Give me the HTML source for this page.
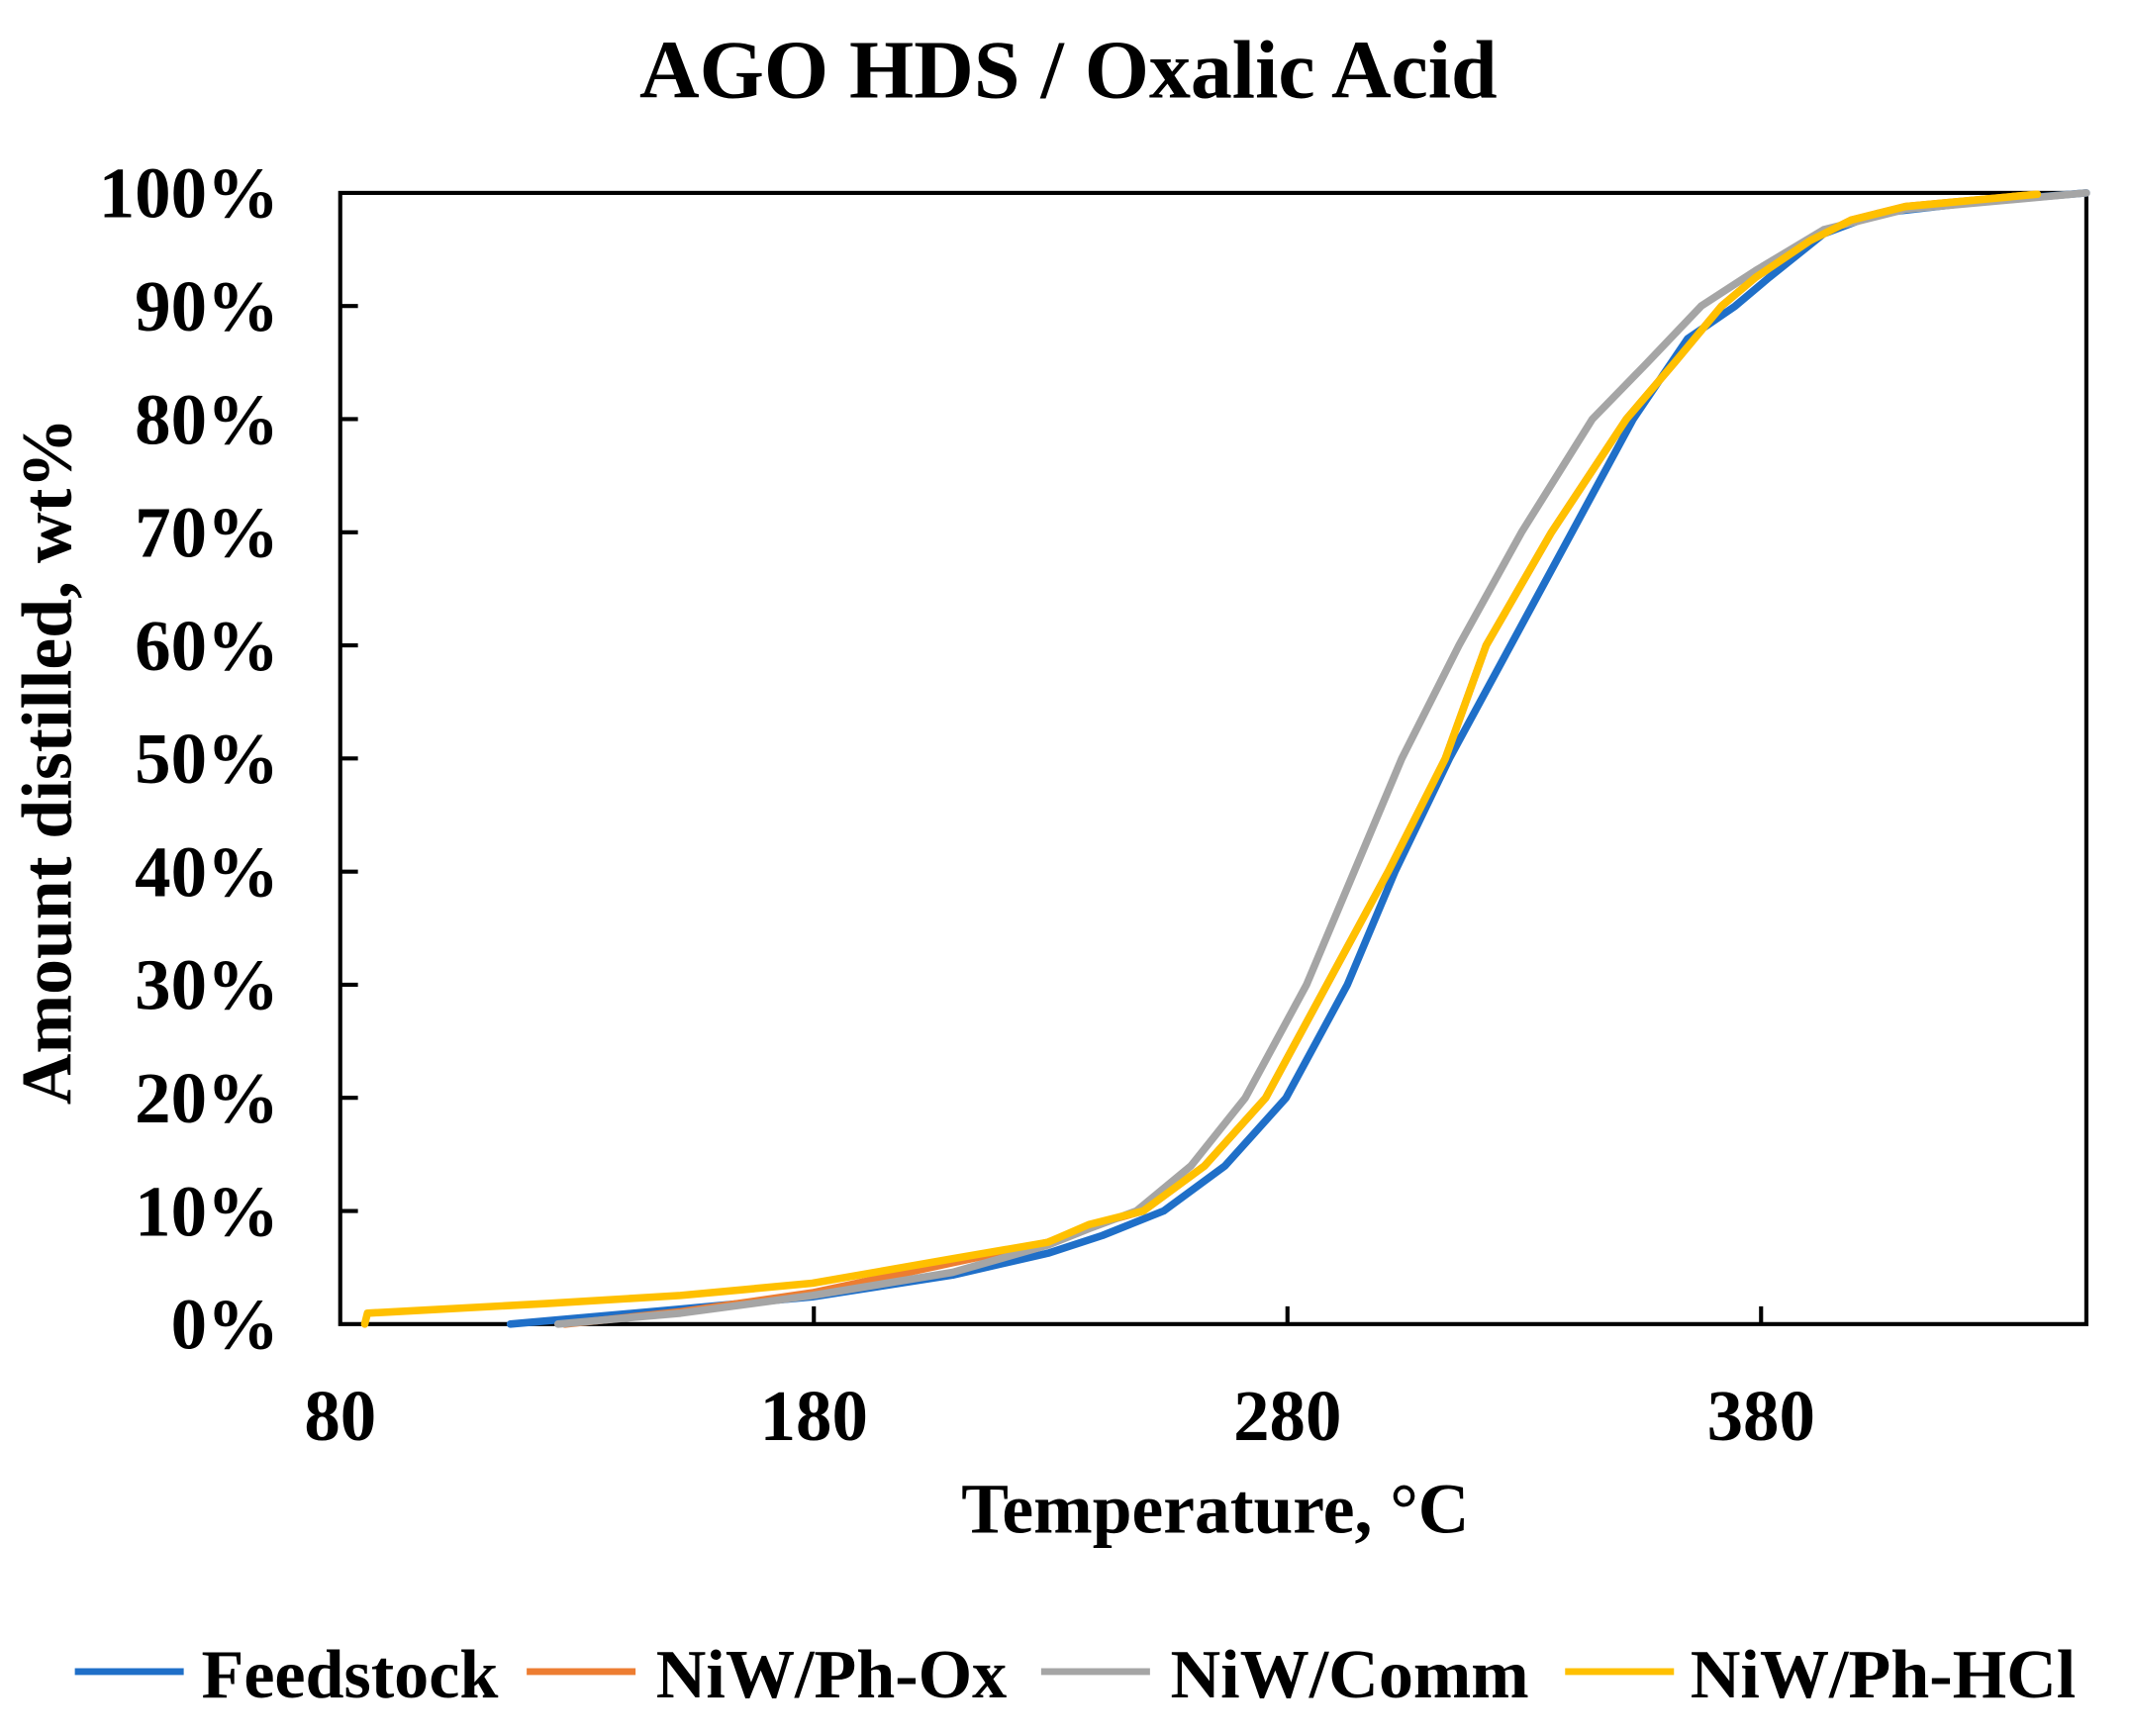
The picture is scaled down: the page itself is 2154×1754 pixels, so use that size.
<!DOCTYPE html>
<html><head><meta charset="utf-8"><style>html,body{margin:0;padding:0;background:#fff}svg{display:block}</style></head>
<body>
<svg width="2154" height="1754" xmlns="http://www.w3.org/2000/svg" font-family="Liberation Serif, serif" font-weight="bold">
<g transform="matrix(1.375,0,0,1.377,0,-2)">
<text x="785" y="73" font-size="61" text-anchor="middle">AGO HDS / Oxalic Acid</text>
<g font-size="53" text-anchor="end">
<text x="205" y="991">0%</text><text x="205" y="908">10%</text><text x="205" y="825">20%</text><text x="205" y="742">30%</text><text x="205" y="659">40%</text><text x="205" y="576">50%</text><text x="205" y="493">60%</text><text x="205" y="410">70%</text><text x="205" y="327">80%</text><text x="205" y="244">90%</text><text x="205" y="161">100%</text>
</g>
<g font-size="53" text-anchor="middle">
<text x="250" y="1058">80</text><text x="598" y="1058">180</text><text x="946" y="1058">280</text><text x="1294" y="1058">380</text>
</g>
<text x="893" y="1126" font-size="52" text-anchor="middle">Temperature, °C</text>
<text transform="translate(52,560) rotate(-90)" font-size="52" text-anchor="middle">Amount distilled, wt%</text>
<g stroke="#000" stroke-width="3" fill="none">
<rect x="250" y="143" width="1283" height="830"/>
<path d="M250 226h13M250 309h13M250 392h13M250 475h13M250 558h13M250 641h13M250 724h13M250 807h13M250 890h13M598 973v-13M946 973v-13M1294 973v-13"/>
</g>
<g fill="none" stroke-width="5.5" stroke-linejoin="round" stroke-linecap="round">
<polyline stroke="#1f6fc8" points="375,973 500,962 597,953 700,937 770,921 810,908 855,890 900,857 945,807 990,724 1025,641 1065,558 1110,475 1155,392 1200,309 1240,250 1275,226 1300,205 1340,173 1380,158 1450,150 1533,143"/>
<polyline stroke="#ed7d31" points="415,973 500,964 597,950 700,928 770,913 800,901 840,890 885,857 930,807 975,724 1020,641 1062,558 1092,475 1140,392 1195,309 1230,268 1265,226 1290,205 1330,178 1360,163 1400,153 1497,144"/>
<polyline stroke="#a5a5a5" points="410,973 500,965 597,952 700,935 770,915 800,903 835,890 875,857 915,807 960,724 995,641 1030,558 1072,475 1118,392 1170,309 1210,268 1250,226 1290,200 1340,170 1400,155 1533,143"/>
<polyline stroke="#ffc000" points="268,973 270,965 400,958 500,952 597,943 700,925 770,913 800,900 840,890 885,857 930,807 975,724 1020,641 1062,558 1092,475 1140,392 1195,309 1230,268 1265,226 1290,205 1330,178 1360,163 1400,153 1497,144"/>
</g>
<g stroke-width="5">
<line x1="55" y1="1228" x2="135" y2="1228" stroke="#1f6fc8"/>
<line x1="387" y1="1228" x2="467" y2="1228" stroke="#ed7d31"/>
<line x1="765" y1="1228" x2="845" y2="1228" stroke="#a5a5a5"/>
<line x1="1150" y1="1228" x2="1230" y2="1228" stroke="#ffc000"/>
</g>
<g font-size="51">
<text x="148" y="1247">Feedstock</text>
<text x="482" y="1247">NiW/Ph-Ox</text>
<text x="860" y="1247">NiW/Comm</text>
<text x="1242" y="1247">NiW/Ph-HCl</text>
</g>
</g>
</svg>
</body></html>
